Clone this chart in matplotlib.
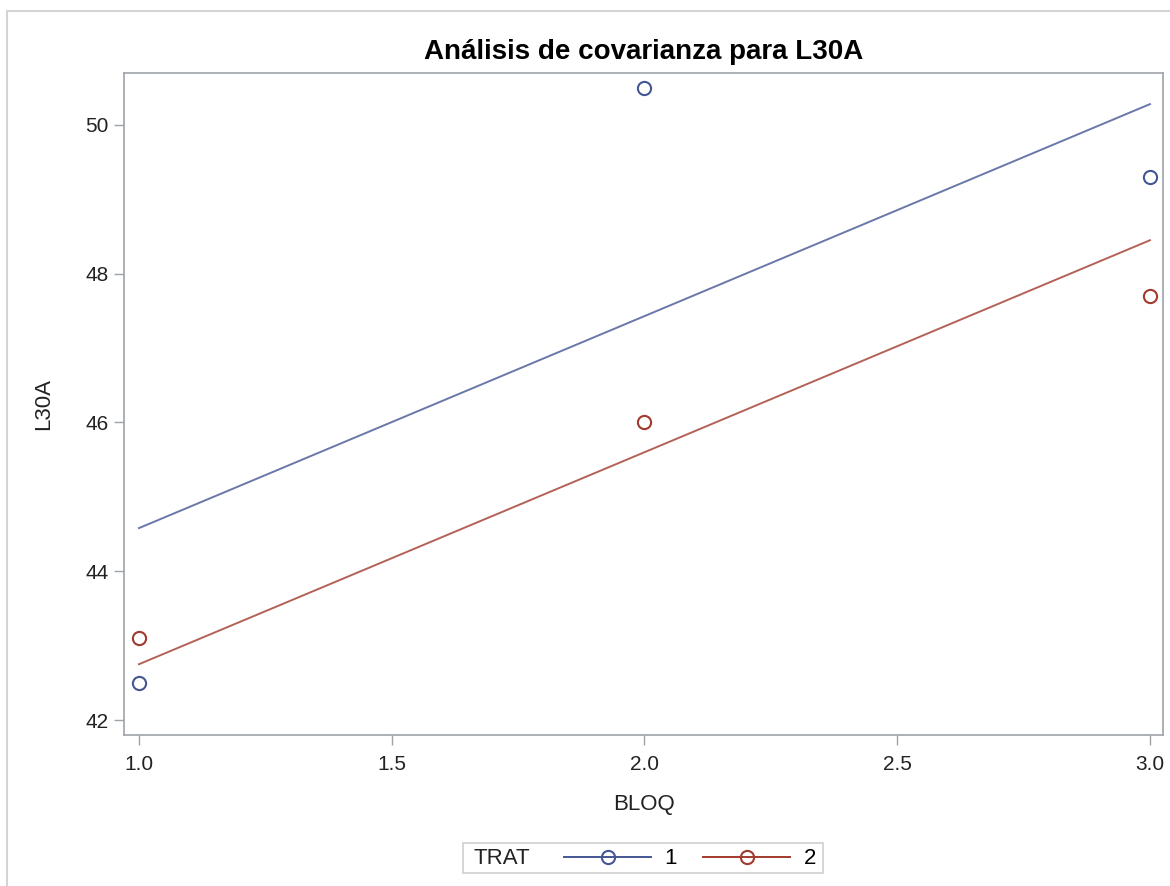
import matplotlib
matplotlib.use('Agg')
import matplotlib.pyplot as plt
from matplotlib.lines import Line2D
from matplotlib.patches import Rectangle

plt.rcParams['font.family'] = ['Liberation Sans', 'DejaVu Sans']

bloq = [1.0, 2.0, 3.0]
l30a_t1 = [42.5, 50.5, 49.3]
l30a_t2 = [43.1, 46.0, 47.7]
# fitted (parallel) lines
fit_x = [1.0, 3.0]
fit_t1 = [44.58, 50.28]
fit_t2 = [42.75, 48.45]
trat = ['1', '2']
xticks = [1.0, 1.5, 2.0, 2.5, 3.0]
yticks = [42, 44, 46, 48, 50]

blue = '#445694'
red = '#a23a2e'
gray = '#9ea3a8'

fig = plt.figure(figsize=(11.7, 8.86), dpi=100)
ax = fig.add_axes([0.1064, 0.1704, 0.994 - 0.1064, 0.918 - 0.1704])

ax.plot(fit_x, fit_t1, color=blue, lw=1.4, alpha=0.8)
ax.plot(fit_x, fit_t2, color=red, lw=1.4, alpha=0.8)
ax.plot(bloq, l30a_t1, 'o', mfc='none', mec=blue, ms=9.5, mew=1.5)
ax.plot(bloq, l30a_t2, 'o', mfc='none', mec=red, ms=9.5, mew=1.5)

ax.set_xlim(0.9713, 3.0257)
ax.set_ylim(41.798, 50.703)
ax.set_xticks(xticks)
ax.set_xticklabels(['%.1f' % v for v in xticks])
ax.set_yticks(yticks)
ax.tick_params(length=7.5, width=1, color=gray, labelsize=15, labelcolor='#222222')
ax.tick_params(axis='x', pad=7)
ax.tick_params(axis='y', pad=4)
for s in ax.spines.values():
    s.set_color(gray)
    s.set_linewidth(1.2)

ax.set_title('Análisis de covarianza para L30A', fontsize=20, fontweight='bold', pad=10)
ax.set_xlabel('BLOQ', fontsize=16, labelpad=14, color='#222222')
ax.set_ylabel('L30A', fontsize=16, labelpad=22.5, color='#222222')

# legend
handles = [Line2D([], [], color=blue, lw=1.4, marker='o', mfc='none', mec=blue, ms=9.5, mew=1.5),
           Line2D([], [], color=red, lw=1.4, marker='o', mfc='none', mec=red, ms=9.5, mew=1.5)]
leg = fig.legend(handles, trat, loc='center', bbox_to_anchor=(690 / 1170, 1 - 859 / 886), ncol=2,
                 frameon=False, fontsize=16, handlelength=3.9, numpoints=1, columnspacing=1.2,
                 handletextpad=0.6)
fig.text(473 / 1170, 1 - 859 / 886, 'TRAT', fontsize=16, va='center', ha='left', color='#222222')
fig.patches.append(Rectangle((463 / 1170, 1 - 873 / 886), 360 / 1170, 30 / 886,
                             transform=fig.transFigure, fill=False, ec='#cfcfcf', lw=1.2))
# outer border
fig.patches.append(Rectangle((7 / 1170, -0.1), 1.2, 1 - 11 / 886 + 0.1,
                             transform=fig.transFigure, fill=False, ec='#d4d4d4', lw=1.5))

fig.savefig('out.png', dpi=100)
